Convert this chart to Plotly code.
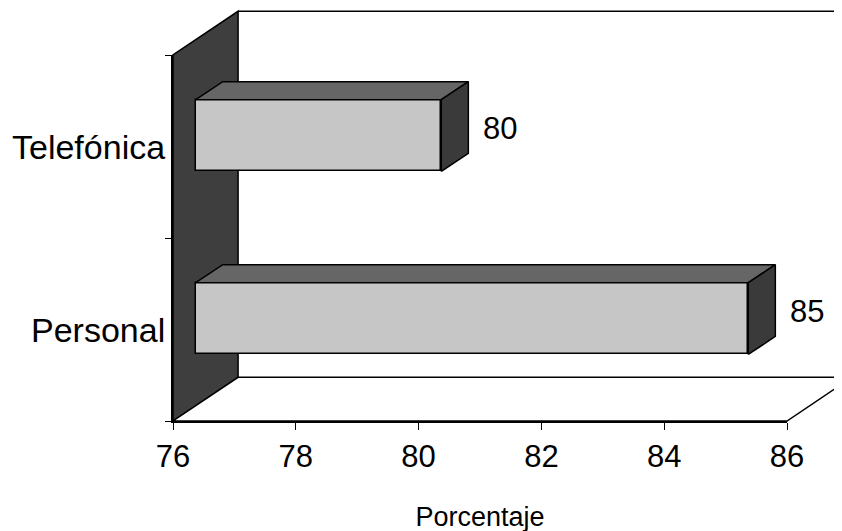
import plotly.graph_objects as go

categories = ["Personal", "Telefónica"]
values = [85, 80]
cat_pos = [0, 1]
x_ticks = [76, 78, 80, 82, 84, 86]

X0, X1 = 76, 86
Y0, Y1 = -0.5, 1.5
DX, DY = 1.06, 0.239          # depth of the 3D box (axis units)
FX, FY = 0.37, 0.06           # offset of bar front face
H = 0.196                     # half bar height
BDX, BDY = 0.44, 0.098        # bar depth

FONT = "Liberation Sans, Arial, sans-serif"


def px(v):
    return (v - X0) / (X1 - X0)


def py(y):
    return (y - Y0) / (Y1 - Y0)


fig = go.Figure()

# front faces
fig.add_trace(go.Bar(
    y=[c + FY for c in cat_pos],
    x=[v - X0 for v in values],
    base=X0 + FX,
    width=2 * H,
    orientation="h",
    marker=dict(color="#c6c6c6", line=dict(color="black", width=1.5)),
    hoverinfo="skip",
    showlegend=False,
))

for c, v in zip(cat_pos, values):
    top = c + FY + H
    bot = c + FY - H
    # top face
    fig.add_trace(go.Scatter(
        x=[X0 + FX, v + FX, v + FX + BDX, X0 + FX + BDX, X0 + FX],
        y=[top, top, top + BDY, top + BDY, top],
        fill="toself", fillcolor="#666666", mode="lines",
        line=dict(color="black", width=1.5), showlegend=False, hoverinfo="skip"))
    # side face
    fig.add_trace(go.Scatter(
        x=[v + FX, v + FX, v + FX + BDX, v + FX + BDX, v + FX],
        y=[bot, top, top + BDY, bot + BDY, bot],
        fill="toself", fillcolor="#3a3a3a", mode="lines",
        line=dict(color="black", width=1.5), showlegend=False, hoverinfo="skip"))
    fig.add_annotation(xref="paper", yref="paper",
                       x=px(v + FX + BDX + 0.2), y=py(c + 0.1), text=str(v),
                       showarrow=False, xanchor="left", yanchor="middle",
                       font=dict(family=FONT, size=31, color="black"))

for c, name in zip(cat_pos, categories):
    fig.add_annotation(xref="paper", x=0, y=c, text=name, showarrow=False,
                       xanchor="right", yanchor="middle", xshift=-6,
                       font=dict(family=FONT, size=34, color="black"))

shapes = [
    # side wall
    dict(type="path", xref="paper", yref="paper", layer="below",
         path=(f"M {px(X0)},{py(Y0)} L {px(X0)},{py(Y1)} "
               f"L {px(X0+DX)},{py(Y1+DY)} L {px(X0+DX)},{py(Y0+DY)} Z"),
         fillcolor="#3e3e3e", line=dict(color="black", width=1.5)),
    # floor
    dict(type="path", xref="paper", yref="paper", layer="below",
         path=(f"M {px(X0)},{py(Y0)} L {px(X1)},{py(Y0)} "
               f"L {px(X1+DX)},{py(Y0+DY)} L {px(X0+DX)},{py(Y0+DY)} Z"),
         fillcolor="white", line=dict(color="black", width=1.5)),
    # top back frame line
    dict(type="line", xref="paper", yref="paper", layer="below",
         x0=px(X0 + DX), y0=py(Y1 + DY), x1=px(X1 + DX), y1=py(Y1 + DY),
         line=dict(color="black", width=1.5)),
]

fig.update_layout(
    width=842, height=531,
    margin=dict(l=165, r=63, t=47, b=116),
    paper_bgcolor="white", plot_bgcolor="rgba(0,0,0,0)",
    shapes=shapes,
    xaxis=dict(range=[X0, X1], tickvals=x_ticks, ticks="outside", ticklen=7,
               tickcolor="black", showline=True, linecolor="black", linewidth=1.5,
               showgrid=False, zeroline=False,
               tickfont=dict(family=FONT, size=31, color="black"),
               title=dict(text="Porcentaje", standoff=34,
                          font=dict(family=FONT, size=27, color="black"))),
    yaxis=dict(range=[Y0, Y1], tickvals=[-0.5, 0.5, 1.5], ticktext=["", "", ""],
               ticks="outside", ticklen=6, tickcolor="black",
               showline=True, linecolor="black", linewidth=1.5,
               showgrid=False, zeroline=False),
    bargap=0,
)

fig.write_html("out.html")
